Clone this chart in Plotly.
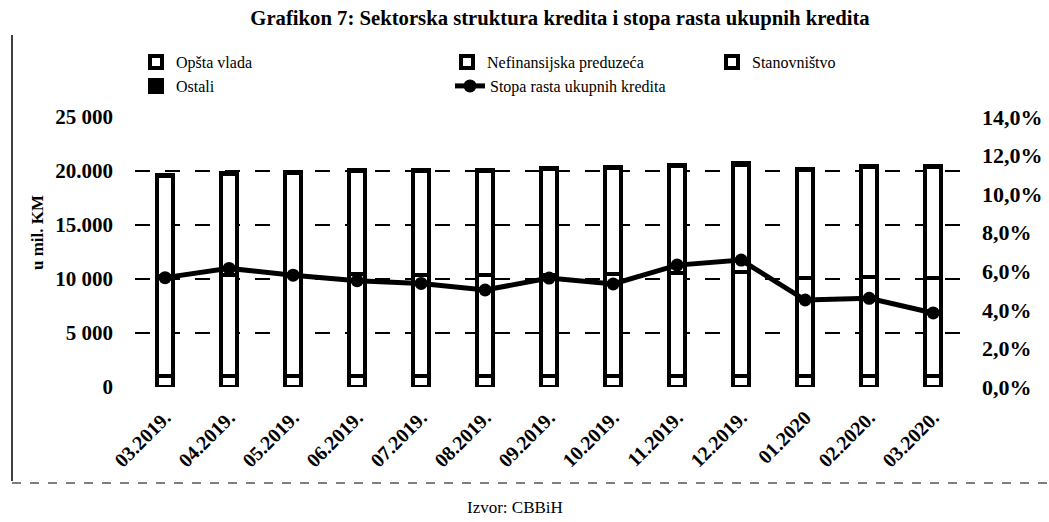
import plotly.graph_objects as go

categories = ["03.2019.", "04.2019.", "05.2019.", "06.2019.", "07.2019.", "08.2019.", "09.2019.",
              "10.2019.", "11.2019.", "12.2019.", "01.2020", "02.2020.", "03.2020."]
opsta_vlada = [1000, 990, 1000, 1010, 1000, 990, 1000, 1010, 1020, 1030, 1010, 1000, 990]
nefinansijska = [9300, 9400, 9400, 9450, 9400, 9350, 9400, 9450, 9550, 9600, 9050, 9150, 9100]
stanovnistvo = [9230, 9350, 9440, 9530, 9590, 9640, 9750, 9780, 9890, 9970, 9990, 10210, 10270]
ostali = [100, 100, 100, 100, 100, 100, 100, 100, 100, 100, 100, 100, 100]
stopa_rasta = [5.67, 6.15, 5.8, 5.51, 5.37, 5.03, 5.65, 5.34, 6.32, 6.58, 4.51, 4.6, 3.84]

left_tickvals = [0, 5000, 10000, 15000, 20000, 25000]
left_ticktext = ["0", "5 000", "10 000", "15.000", "20.000", "25 000"]
right_tickvals = [0, 2, 4, 6, 8, 10, 12, 14]
right_ticktext = ["0,0%", "2,0%", "4,0%", "6,0%", "8,0%", "10,0%", "12,0%", "14,0%"]

serif = "Liberation Serif"
W, H = 1049, 522
L, R, T, B = 135, 87, 117, 135
PW, PH = W - L - R, H - T - B


def px(x):
    return (x - L) / PW


def py(y):
    return (H - B - y) / PH


fig = go.Figure()
bar_line = dict(color="black", width=4)
BW = 0.25
fig.add_trace(go.Bar(x=categories, y=opsta_vlada, name="Opšta vlada", marker_color="white",
                     width=BW, marker_line=bar_line, legend="legend"))
fig.add_trace(go.Bar(x=categories, y=nefinansijska, name="Nefinansijska preduzeća", marker_color="white",
                     width=BW, marker_line=bar_line, legend="legend2"))
fig.add_trace(go.Bar(x=categories, y=stanovnistvo, name="Stanovništvo", marker_color="white",
                     width=BW, marker_line=bar_line, legend="legend3"))
fig.add_trace(go.Bar(x=categories, y=ostali, name="Ostali", marker_color="black",
                     width=BW, marker_line=bar_line, legend="legend4"))
fig.add_trace(go.Scatter(x=categories, y=stopa_rasta, name="Stopa rasta ukupnih kredita", yaxis="y2",
                         mode="lines+markers", line=dict(color="black", width=5),
                         marker=dict(color="black", size=13), legend="legend5"))

leg_font = dict(family=serif, size=16, color="black")


def leg(x, y):
    return dict(orientation="h", x=px(x), y=py(y), xanchor="left", yanchor="middle",
                font=leg_font, bgcolor="rgba(0,0,0,0)", itemwidth=30)


fig.update_layout(
    width=W, height=H,
    barmode="stack",
    paper_bgcolor="white", plot_bgcolor="white",
    margin=dict(l=L, r=R, t=T, b=B, autoexpand=False),
    title=dict(text="<b>Grafikon 7: Sektorska struktura kredita i stopa rasta ukupnih kredita</b>",
               x=560 / W, xanchor="center", y=1 - 18 / H, yanchor="middle",
               font=dict(family=serif, size=20.7, color="black")),
    font=dict(family=serif, color="black"),
    xaxis=dict(range=[-0.47, 12.45], tickangle=-45, showgrid=False, showline=False, ticks="",
               ticklabelstandoff=14,
               tickfont=dict(family=serif, size=20, color="black", weight="bold")),
    yaxis=dict(range=[0, 25000], tickvals=left_tickvals, ticktext=left_ticktext,
               showgrid=True, gridcolor="black", gridwidth=1.6, griddash="longdash",
               zeroline=False, showline=False, ticks="", ticklabelstandoff=21,
               tickfont=dict(family=serif, size=21, color="black", weight="bold")),
    yaxis2=dict(range=[0, 14], tickvals=right_tickvals, ticktext=right_ticktext,
                overlaying="y", side="right", showgrid=False, zeroline=False, showline=False,
                ticks="", ticklabelstandoff=19,
                tickfont=dict(family=serif, size=22, color="black", weight="bold")),
    legend=leg(136, 62),
    legend2=leg(447, 62),
    legend3=leg(712, 62),
    legend4=leg(136, 86),
    legend5=leg(450, 86),
    showlegend=True,
)

# axis title as annotation for exact placement
fig.add_annotation(text="<b>u mil. KM</b>", xref="paper", yref="paper", x=px(37), y=py(233),
                   showarrow=False, textangle=-90, xanchor="center", yanchor="middle",
                   font=dict(family=serif, size=17, color="black"))

# frame lines (decoration) and source note
fig.add_shape(type="line", xref="paper", yref="paper", x0=px(12), x1=px(12),
              y0=py(481), y1=py(35), line=dict(color="black", width=1.5))
fig.add_shape(type="line", xref="paper", yref="paper", x0=px(12), x1=px(1049),
              y0=py(483), y1=py(483), line=dict(color="black", width=1.2, dash="dash"))
fig.add_annotation(text="Izvor: CBBiH", xref="paper", yref="paper", x=px(515),
                   y=py(507), showarrow=False, xanchor="center", yanchor="middle",
                   font=dict(family=serif, size=17, color="black"))

fig.write_html("out.html", config={"displayModeBar": False},
               post_script="document.body.style.margin='0';")
